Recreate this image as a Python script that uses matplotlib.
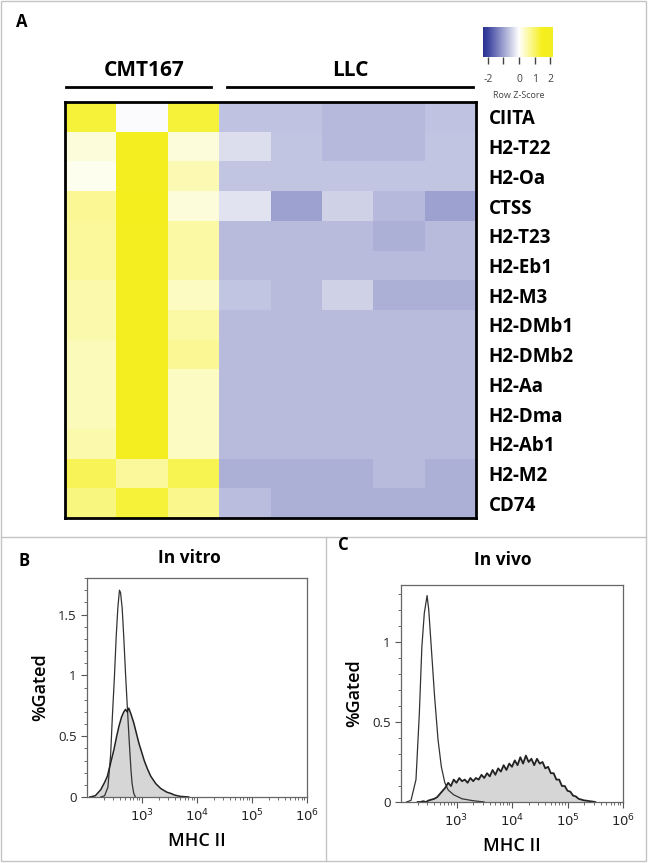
import matplotlib
matplotlib.use("Agg")
import matplotlib.pyplot as plt
import numpy as np
from matplotlib.colors import LinearSegmentedColormap, Normalize
from matplotlib.ticker import LogLocator, MultipleLocator, NullFormatter
from matplotlib.patches import Rectangle
from matplotlib.lines import Line2D

plt.rcParams['font.family'] = ['Open Sans', 'DejaVu Sans']

# ---- panel A: heatmap data (row z-scores) ----
genes = ["CIITA", "H2-T22", "H2-Oa", "CTSS", "H2-T23", "H2-Eb1", "H2-M3",
         "H2-DMb1", "H2-DMb2", "H2-Aa", "H2-Dma", "H2-Ab1", "H2-M2", "CD74"]
groups = ["CMT167", "LLC"]

zscores = [
    [1.30, -0.03, 1.30, -0.65, -0.65, -0.75, -0.75, -0.65],
    [0.25, 2.00, 0.25, -0.35, -0.62, -0.75, -0.75, -0.62],
    [0.10, 2.00, 0.50, -0.62, -0.62, -0.62, -0.62, -0.62],
    [0.70, 1.80, 0.25, -0.30, -1.00, -0.50, -0.75, -1.00],
    [0.65, 1.90, 0.60, -0.72, -0.72, -0.72, -0.85, -0.72],
    [0.65, 1.90, 0.60, -0.72, -0.72, -0.72, -0.72, -0.72],
    [0.55, 1.90, 0.40, -0.62, -0.72, -0.50, -0.85, -0.85],
    [0.55, 1.90, 0.60, -0.72, -0.72, -0.72, -0.72, -0.72],
    [0.45, 1.90, 0.70, -0.72, -0.72, -0.72, -0.72, -0.72],
    [0.45, 1.90, 0.40, -0.72, -0.72, -0.72, -0.72, -0.72],
    [0.45, 1.90, 0.40, -0.72, -0.72, -0.72, -0.72, -0.72],
    [0.55, 1.90, 0.40, -0.72, -0.72, -0.72, -0.72, -0.72],
    [1.10, 0.65, 1.15, -0.85, -0.85, -0.85, -0.72, -0.85],
    [0.85, 1.30, 0.75, -0.70, -0.85, -0.85, -0.85, -0.85],
]

# ---- panels B / C: flow histograms, (log10 MHC II, %Gated) ----
vitro_ctrl_x = [2.25, 2.32, 2.38, 2.43, 2.46, 2.50, 2.53, 2.56, 2.59, 2.61, 2.64,
                2.67, 2.70, 2.72, 2.75, 2.77, 2.80, 2.82, 2.85, 2.88]
vitro_ctrl_y = [0.0, 0.01, 0.08, 0.35, 0.65, 1.00, 1.31, 1.55, 1.70, 1.68, 1.55,
                1.30, 1.02, 0.85, 0.60, 0.44, 0.22, 0.11, 0.03, 0.0]
vitro_stain_x = [2.05, 2.15, 2.25, 2.32, 2.37, 2.43, 2.49, 2.54, 2.58, 2.63, 2.67,
                 2.70, 2.73, 2.76, 2.80, 2.85, 2.90, 2.945, 3.00, 3.04, 3.10,
                 3.16, 3.25, 3.34, 3.45, 3.52, 3.60, 3.70, 3.85]
vitro_stain_y = [0.0, 0.01, 0.06, 0.12, 0.17, 0.28, 0.39, 0.50, 0.58, 0.66, 0.70,
                 0.72, 0.70, 0.73, 0.68, 0.61, 0.52, 0.44, 0.36, 0.30, 0.23,
                 0.17, 0.11, 0.07, 0.04, 0.03, 0.015, 0.005, 0.0]

vivo_ctrl_x = [2.10, 2.18, 2.27, 2.33, 2.376, 2.42, 2.47, 2.50, 2.545, 2.605,
               2.667, 2.727, 2.79, 2.85, 2.95, 3.10, 3.30, 3.50]
vivo_ctrl_y = [0.0, 0.01, 0.14, 0.55, 0.97, 1.18, 1.29, 1.20, 0.97, 0.66,
               0.39, 0.22, 0.12, 0.075, 0.045, 0.02, 0.008, 0.0]
vivo_stain_x = [2.30, 2.35, 2.40, 2.45, 2.50, 2.55, 2.60, 2.65, 2.70, 2.75, 2.80,
                2.85, 2.90, 2.95, 3.00, 3.05, 3.10, 3.15, 3.20, 3.25, 3.30, 3.35,
                3.40, 3.45, 3.50, 3.55, 3.60, 3.65, 3.70, 3.75, 3.80, 3.85, 3.90,
                3.95, 4.00, 4.05, 4.10, 4.15, 4.20, 4.25, 4.30, 4.35, 4.40, 4.45,
                4.50, 4.55, 4.60, 4.65, 4.70, 4.75, 4.80, 4.85, 4.90, 4.95, 5.00,
                5.05, 5.10, 5.15, 5.20, 5.25, 5.30, 5.35, 5.40, 5.45, 5.50]
vivo_stain_y = [0.0, 0.0, 0.005, 0.0, 0.01, 0.015, 0.02, 0.03, 0.05, 0.07, 0.09,
                0.12, 0.10, 0.14, 0.12, 0.15, 0.13, 0.14, 0.12, 0.15, 0.13, 0.15,
                0.14, 0.17, 0.15, 0.18, 0.16, 0.20, 0.17, 0.21, 0.19, 0.23, 0.20,
                0.24, 0.22, 0.26, 0.23, 0.28, 0.24, 0.29, 0.25, 0.27, 0.23, 0.27,
                0.24, 0.25, 0.21, 0.22, 0.18, 0.18, 0.14, 0.14, 0.10, 0.10, 0.07,
                0.065, 0.04, 0.035, 0.02, 0.015, 0.01, 0.008, 0.005, 0.003, 0.0]

W, H = 648, 863
fig = plt.figure(figsize=(W / 100, H / 100), dpi=100)


def box(x0, y0, x1, y1):
    # pixel box (top-left origin) -> figure fraction rect
    return [x0 / W, 1 - y1 / H, (x1 - x0) / W, (y1 - y0) / H]


def fx(x):
    return x / W


def fy(y):
    return 1 - y / H


# panel frames
grey = "#c4c4c4"
fig.add_artist(Rectangle((fx(1), fy(861)), fx(646) - fx(1), fy(1) - fy(861),
                         transform=fig.transFigure, fill=False, ec=grey, lw=1))
fig.add_artist(Line2D([fx(1), fx(646)], [fy(537), fy(537)], transform=fig.transFigure, color=grey, lw=1))
fig.add_artist(Line2D([fx(326), fx(326)], [fy(537), fy(861)], transform=fig.transFigure, color=grey, lw=1))

# colormap: blue - white - yellow
cmap = LinearSegmentedColormap.from_list("bwy", [
    (0.0, "#2b3190"), (0.07, "#3c44a0"), (2.32 / 4.51, "#ffffff"),
    (3.82 / 4.51, "#f5ef1c"), (1.0, "#f3ed22")])
norm = Normalize(vmin=-2.32, vmax=2.19)

# ---- panel A ----
ax = fig.add_axes(box(65, 102, 476, 518))
ax.pcolormesh(np.array(zscores), cmap=cmap, norm=norm)
ax.set_xlim(0, 8)
ax.set_ylim(14, 0)
ax.set_xticks([])
ax.yaxis.tick_right()
ax.set_yticks(np.arange(len(genes)) + 0.5)
ax.set_yticklabels(genes, fontsize=13.5, fontweight="bold")
ax.tick_params(axis="y", length=0, pad=9)
for s in ax.spines.values():
    s.set_linewidth(2)

fig.text(fx(22), fy(22), "A", fontsize=12, fontweight="bold", ha="center", va="center")
fig.text(fx(144), fy(71), groups[0], fontsize=15, fontweight="bold", ha="center", va="center")
fig.text(fx(350), fy(71), groups[1], fontsize=15, fontweight="bold", ha="center", va="center")
fig.add_artist(Line2D([fx(66), fx(211)], [fy(87), fy(87)], transform=fig.transFigure, color="black", lw=2))
fig.add_artist(Line2D([fx(227), fx(473)], [fy(87), fy(87)], transform=fig.transFigure, color="black", lw=2))

# colour key
cax = fig.add_axes(box(483, 27, 553, 57))
sm = plt.cm.ScalarMappable(cmap=cmap, norm=norm)
cb = fig.colorbar(sm, cax=cax, orientation="horizontal")
cb.outline.set_visible(False)
cb.set_ticks([-2, -1, 0, 1, 2])
cb.set_ticklabels(["-2", "", "0", "1", "2"])
cax.tick_params(labelsize=7.5, length=5, width=1, color="#444444", labelcolor="#444444", pad=7)
fig.text(fx(519), fy(95), "Row Z-Score", fontsize=6.5, color="#444444", ha="center", va="center")


# ---- panels B and C ----
def flow_axes(rect, ymax, yticks, ylabels):
    a = fig.add_axes(rect)
    a.set_xscale("log")
    a.set_xlim(100, 1e6)
    a.set_ylim(0, ymax)
    a.set_xticks([1e3, 1e4, 1e5, 1e6])
    a.set_xticklabels([r"$10^{3}$", r"$10^{4}$", r"$10^{5}$", r"$10^{6}$"])
    a.xaxis.set_minor_locator(LogLocator(base=10, subs=np.arange(2, 10)))
    a.xaxis.set_minor_formatter(NullFormatter())
    a.set_yticks(yticks)
    a.set_yticklabels(ylabels)
    a.yaxis.set_minor_locator(MultipleLocator(0.1))
    a.tick_params(which="major", length=4, width=0.8, labelsize=9.5, color="#555555",
                  labelcolor="#222222")
    a.tick_params(which="minor", length=2, width=0.6, color="#555555")
    for s in a.spines.values():
        s.set_color("#666666")
        s.set_linewidth(0.9)
    a.set_xlabel("MHC II", fontsize=13, fontweight="semibold", labelpad=6)
    a.set_ylabel("%Gated", fontsize=13, fontweight="semibold", labelpad=6)
    return a


def draw_hist(a, cx, cy, sx, sy, lw):
    sxv = 10 ** np.array(sx)
    cxv = 10 ** np.array(cx)
    a.fill_between(sxv, sy, color="#d6d6d6", lw=0)
    a.plot(cxv, cy, color="#333333", lw=0.9)
    a.plot(sxv, sy, color="#222222", lw=lw)


axb = flow_axes(box(87, 578, 307, 797), 1.8, [0, 0.5, 1, 1.5], ["0", "0.5", "1", "1.5"])
draw_hist(axb, vitro_ctrl_x, vitro_ctrl_y, vitro_stain_x, vitro_stain_y, 1.1)
fig.text(fx(189), fy(558), "In vitro", fontsize=12.5, fontweight="bold", ha="center", va="center")
fig.text(fx(24), fy(561), "B", fontsize=12, fontweight="bold", ha="center", va="center")

axc = flow_axes(box(401, 585, 623, 802), 1.356, [0, 0.5, 1], ["0", "0.5", "1"])
draw_hist(axc, vivo_ctrl_x, vivo_ctrl_y, vivo_stain_x, vivo_stain_y, 1.3)
fig.text(fx(503), fy(560), "In vivo", fontsize=12.5, fontweight="bold", ha="center", va="center")
fig.text(fx(343), fy(545), "C", fontsize=12, fontweight="bold", ha="center", va="center")

plt.savefig("out.png", dpi=100)
plt.close()
